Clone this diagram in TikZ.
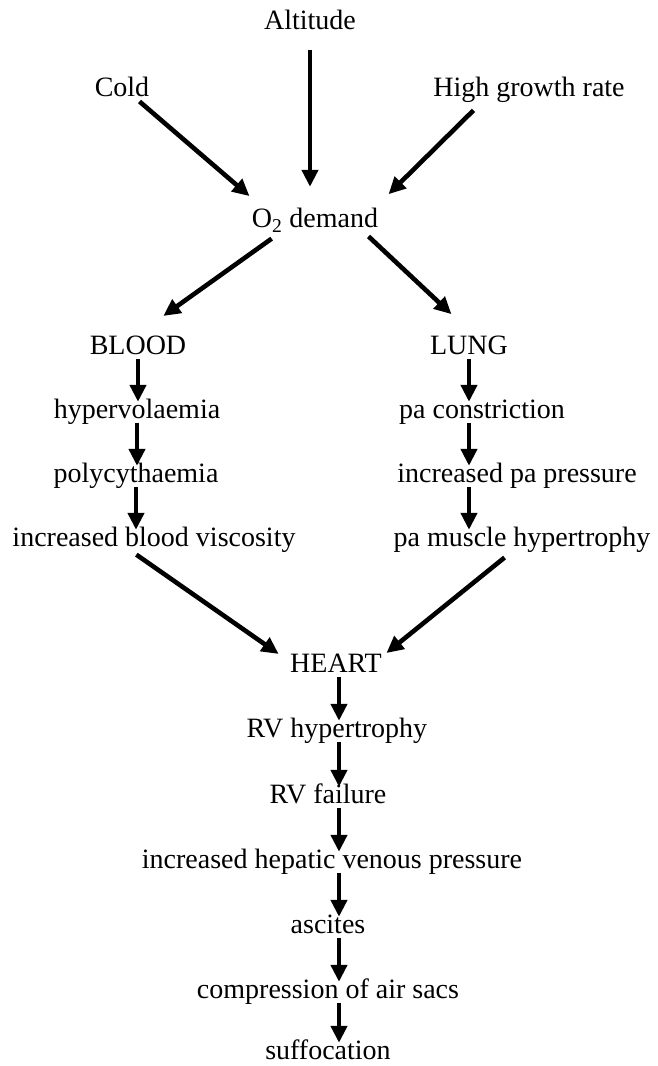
\documentclass[tikz,border=0pt]{standalone}
\usepackage{xcolor}
\usepackage{fontspec}
\setmainfont{Liberation Serif}
\usepackage{tikz}
\usetikzlibrary{positioning,arrows.meta}

\begin{document}
\begin{tikzpicture}[x=1pt,y=1pt,
  lbl/.style={anchor=base, inner sep=0pt, text height=19pt, text depth=5.6pt,
              font=\fontsize{28}{30}\selectfont},
  arr/.style={line width=4.6pt, -{Triangle[length=17pt,width=16pt]},
              shorten <=-2pt, shorten >=-2pt}]
\useasboundingbox (0,0) rectangle (657,1066);

% causes
\node[lbl] (alt)  at (310,1036) {Altitude};
\node[lbl] (cold) at (122,969) {Cold};
\node[lbl] (high) at (529,969) {High growth rate};
\node[lbl] (o2)   at (315,838) {O\textsubscript{2} demand};

% blood branch
\node[lbl] (blood) at (138,711) {BLOOD};
\node[lbl] (hyper) at (137,647) {hypervolaemia};
\node[lbl] (poly)  at (136,583) {polycythaemia};
\node[lbl] (visc)  at (154,519) {increased blood viscosity};

% lung branch
\node[lbl] (lung)  at (469,711) {LUNG};
\node[lbl] (pacon) at (482,647) {pa constriction};
\node[lbl] (incpa) at (517,583) {increased pa pressure};
\node[lbl] (pamus) at (522,519) {pa muscle hypertrophy};

% heart chain
\node[lbl] (heart) at (336,393) {HEART};
\node[lbl] (rvh)   at (337,328) {RV hypertrophy};
\node[lbl] (rvf)   at (328,262) {RV failure};
\node[lbl] (hep)   at (332,197) {increased hepatic venous pressure};
\node[lbl] (asc)   at (328,132) {ascites};
\node[lbl] (comp)  at (328,67) {compression of air sacs};
\node[lbl] (suff)  at (328,6) {suffocation};

% into O2 demand
\draw[arr] ([yshift=-16pt]alt.south) -- ([yshift=24pt]alt.south |- o2.north);
\draw[arr] ([xshift=19pt]cold.south) -- ([shift={(-67pt,14pt)}]o2.north);
\draw[arr] ([shift={(-57pt,-9pt)}]high.south) -- ([shift={(75pt,16pt)}]o2.north);

% split
\draw[arr] ([shift={(-45pt,-6pt)}]o2.south) -- ([shift={(27pt,21pt)}]blood.north);
\draw[arr] ([shift={(55pt,-4pt)}]o2.south) -- ([shift={(-19pt,23pt)}]lung.north);

% columns
\draw[arr] (blood.south) -- (blood.south |- hyper.north);
\draw[arr] (hyper.south) -- (hyper.south |- poly.north);
\draw[arr] (poly.south) -- (poly.south |- visc.north);
\draw[arr] (lung.south) -- (lung.south |- pacon.north);
\draw[arr] (lung.south |- pacon.south) -- (lung.south |- incpa.north);
\draw[arr] (lung.south |- incpa.south) -- (lung.south |- pamus.north);

% join
\draw[arr] ([shift={(-16pt,-3pt)}]visc.south) -- ([shift={(-59pt,1pt)}]heart.north);
\draw[arr] ([shift={(-19pt,-6pt)}]pamus.south) -- ([shift={(52pt,2pt)}]heart.north);

% down to suffocation
\draw[arr] ([xshift=3pt]heart.south) -- ([xshift=3pt]heart.south |- rvh.north);
\draw[arr] ([xshift=3pt]heart.south |- rvh.south) -- ([xshift=3pt]heart.south |- rvf.north);
\draw[arr] ([xshift=3pt]heart.south |- rvf.south) -- ([xshift=3pt]heart.south |- hep.north);
\draw[arr] ([xshift=3pt]heart.south |- hep.south) -- ([xshift=3pt]heart.south |- asc.north);
\draw[arr] ([xshift=3pt]heart.south |- asc.south) -- ([xshift=3pt]heart.south |- comp.north);
\draw[arr] ([xshift=3pt]heart.south |- comp.south) -- ([xshift=3pt]heart.south |- suff.north);
\end{tikzpicture}
\end{document}
